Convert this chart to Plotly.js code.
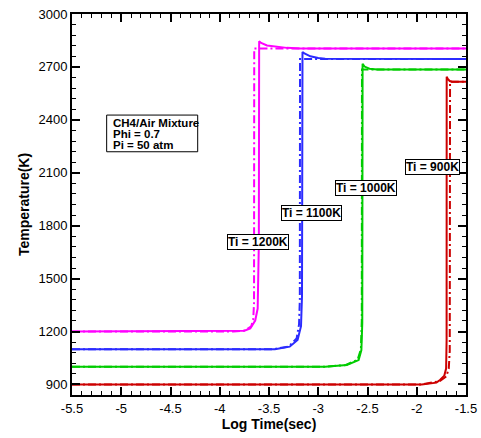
<!DOCTYPE html>
<html>
<head>
<meta charset="utf-8">
<script src="https://cdn.plot.ly/plotly-3.0.1.min.js"></script>
<style>html,body{margin:0;padding:0;background:#fff;}#chart{width:481px;height:438px;}</style>
</head>
<body>
<div id="chart"></div>
<script>
// Ti = 1200 K (magenta)
const x1200Solid = [-5.5, -3.87, -3.75, -3.69, -3.64, -3.615, -3.603, -3.600, -3.58, -3.52, -3.42, -3.32, -3.18, -1.5];
const T1200Solid = [1200, 1200, 1204, 1218, 1262, 1330, 1700, 2845, 2836, 2822, 2813, 2808, 2805, 2805];
const x1200Dash  = [-5.5, -3.86, -3.74, -3.68, -3.66, -3.652, -3.650, -1.5];
const T1200Dash  = [1200, 1200, 1206, 1230, 1270, 1360, 2805, 2805];
// Ti = 1100 K (blue)
const x1100Solid = [-5.5, -3.44, -3.29, -3.21, -3.175, -3.165, -3.160, -3.14, -3.08, -3.00, -2.93, -1.5];
const T1100Solid = [1100, 1100, 1114, 1152, 1230, 1400, 2785, 2776, 2760, 2750, 2746, 2745];
const x1100Dash  = [-5.5, -3.45, -3.30, -3.22, -3.195, -3.187, -3.185, -1.5];
const T1100Dash  = [1100, 1100, 1115, 1160, 1240, 1380, 2745, 2745];
// Ti = 1000 K (green)
const x1000Solid = [-5.5, -2.93, -2.71, -2.59, -2.562, -2.553, -2.550, -2.53, -2.48, -2.40, -1.5];
const T1000Solid = [1000, 1000, 1010, 1038, 1095, 1250, 2718, 2702, 2690, 2685, 2685];
const x1000Dash  = [-5.5, -2.93, -2.72, -2.60, -2.567, -2.558, -2.556, -1.5];
const T1000Dash  = [1000, 1000, 1010, 1040, 1100, 1260, 2685, 2685];
// Ti = 900 K (red)
const x900Solid = [-5.5, -1.95, -1.80, -1.764, -1.72, -1.702, -1.697, -1.696, -1.685, -1.665, -1.64, -1.5];
const T900Solid = [900, 900, 910, 925, 950, 990, 1150, 2644, 2632, 2620, 2616, 2616];
const x900Dash  = [-5.5, -1.95, -1.77, -1.70, -1.675, -1.665, -1.662, -1.5];
const T900Dash  = [900, 900, 918, 945, 990, 1090, 2616, 2616];

const xTickVals = [-5.5, -5, -4.5, -4, -3.5, -3, -2.5, -2, -1.5];
const xTickText = ['-5.5', '-5', '-4.5', '-4', '-3.5', '-3', '-2.5', '-2', '-1.5'];
const yTickVals = [900, 1200, 1500, 1800, 2100, 2400, 2700, 3000];

const labelTexts = ['Ti = 1200K', 'Ti = 1100K', 'Ti = 1000K', 'Ti = 900K'];
const labelX = [-3.612, -3.070, -2.520, -1.845];
const labelY = [1705, 1870, 2012, 2130];
const infoLines = ['CH4/Air Mixture', 'Phi = 0.7', 'Pi = 50 atm'];
const infoY = [2382, 2320, 2257];

const colors = ['#ff00ff', '#2b2bff', '#00cc00', '#cc0000'];
const dashPat = '8px,3px,2px,3px';

function solid(x, y, c) { return {x: x, y: y, mode: 'lines', line: {color: c, width: 2}, hoverinfo: 'skip'}; }
function dashed(x, y, c) { return {x: x, y: y, mode: 'lines', line: {color: c, width: 2, dash: dashPat}, hoverinfo: 'skip'}; }

const data = [
  solid(x1200Solid, T1200Solid, colors[0]), dashed(x1200Dash, T1200Dash, colors[0]),
  solid(x1100Solid, T1100Solid, colors[1]), dashed(x1100Dash, T1100Dash, colors[1]),
  solid(x1000Solid, T1000Solid, colors[2]), dashed(x1000Dash, T1000Dash, colors[2]),
  solid(x900Solid, T900Solid, colors[3]), dashed(x900Dash, T900Dash, colors[3])
];

const font = 'Liberation Sans, Arial, sans-serif';
const annotations = [];
labelTexts.forEach((t, i) => annotations.push({
  x: labelX[i], y: labelY[i], xref: 'x', yref: 'y', text: '<b>' + t + '</b>', showarrow: false,
  font: {family: font, size: 12, color: '#000'}, bgcolor: '#fff', bordercolor: '#000', borderwidth: 1, borderpad: 0
}));
infoLines.forEach((t, i) => annotations.push({
  x: -5.107, y: infoY[i], xref: 'x', yref: 'y', xanchor: 'left', text: '<b>' + t + '</b>', showarrow: false,
  font: {family: font, size: 11.5, color: '#000'}
}));

const layout = {
  width: 481, height: 438,
  margin: {l: 72, r: 15, t: 14, b: 43},
  paper_bgcolor: '#fff', plot_bgcolor: '#fff',
  showlegend: false,
  font: {family: font, size: 13, color: '#000'},
  xaxis: {
    range: [-5.5, -1.5], tickvals: xTickVals, ticktext: xTickText,
    showgrid: false, zeroline: false, showline: true, linecolor: '#000', linewidth: 2,
    mirror: 'ticks', ticks: 'inside', ticklen: 8, tickwidth: 2, tickcolor: '#000',
    tickfont: {family: font, size: 13},
    minor: {dtick: 0.1, ticks: 'inside', ticklen: 4, tickwidth: 1, tickcolor: '#000', showgrid: false},
    title: {text: '<b>Log Time(sec)</b>', font: {family: font, size: 14}, standoff: 5}
  },
  yaxis: {
    range: [840, 3000], tickvals: yTickVals,
    showgrid: false, zeroline: false, showline: true, linecolor: '#000', linewidth: 2,
    mirror: 'ticks', ticks: 'inside', ticklen: 8, tickwidth: 2, tickcolor: '#000',
    tickfont: {family: font, size: 13},
    minor: {dtick: 60, ticks: 'inside', ticklen: 4, tickwidth: 1, tickcolor: '#000', showgrid: false},
    title: {text: '<b>Temperature(K)</b>', font: {family: font, size: 14}, standoff: 6}
  },
  shapes: [{type: 'rect', xref: 'x', yref: 'y', x0: -5.148, x1: -4.224, y0: 2219, y1: 2427,
            line: {color: '#000', width: 1}, fillcolor: 'rgba(0,0,0,0)'}],
  annotations: annotations
};

Plotly.newPlot('chart', data, layout, {staticPlot: true, displayModeBar: false});
</script>
</body>
</html>
